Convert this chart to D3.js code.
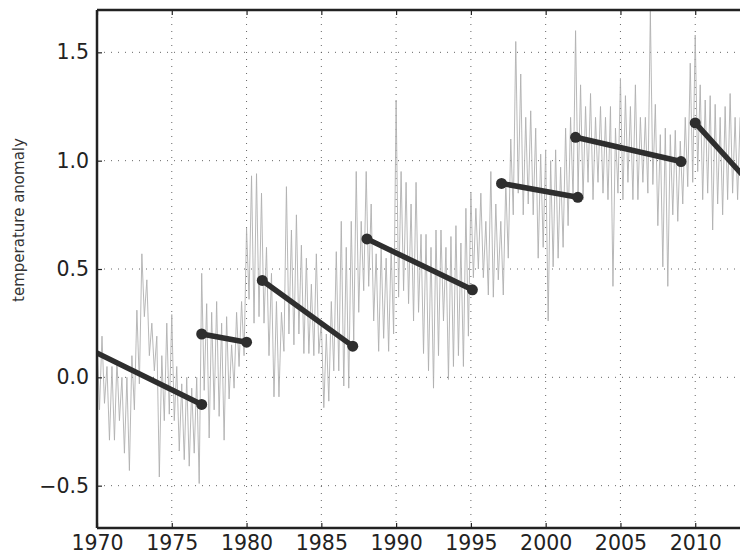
<!DOCTYPE html>
<html>
<head>
<meta charset="utf-8">
<script src="https://cdn.jsdelivr.net/npm/d3@7"></script>
<style>
  body { margin: 0; background: #fff; }
  svg { display: block; }
  svg text { font-family: "DejaVu Sans", sans-serif; }
</style>
</head>
<body>
<script>
// gray anomaly series, 6 samples per year starting 1970
const anomalyStart = 1970;
const samplesPerYear = 6;
const anomaly = [
  0.18, -0.15, 0.19, -0.12, 0.05, -0.29,
  0.05, -0.29, 0.08, -0.20, 0.00, -0.35,
  0.00, -0.43, 0.10, -0.15, 0.31, -0.03,
  0.57, 0.28, 0.45, 0.10, 0.25, 0.03,
  0.19, -0.46, 0.10, -0.20, 0.25, -0.17,
  0.29, -0.20, 0.05, -0.34, -0.03, -0.38,
  0.00, -0.41, -0.05, -0.35, 0.00, -0.49,
  0.48, -0.06, 0.34, -0.28, 0.30, -0.15,
  0.35, -0.18, 0.25, -0.29, 0.28, -0.10,
  0.15, -0.05, 0.30, 0.05, 0.35, 0.10,
  0.69, 0.36, 0.93, 0.25, 0.94, 0.28,
  0.85, 0.25, 0.60, 0.10, 0.48, -0.09,
  0.35, -0.09, 0.30, 0.12, 0.88, 0.20,
  0.68, 0.15, 0.75, 0.20, 0.61, 0.11,
  0.55, 0.11, 0.43, 0.10, 0.57, 0.11,
  0.26, -0.14, 0.20, -0.11, 0.35, 0.03,
  0.58, 0.03, 0.72, -0.04, 0.60, -0.05,
  0.72, 0.17, 0.95, 0.30, 0.72, 0.40,
  0.95, 0.42, 0.80, 0.26, 0.57, 0.12,
  0.60, 0.18, 0.55, 0.12, 0.60, 0.20,
  1.28, 0.37, 0.95, 0.40, 0.90, 0.34,
  0.80, 0.26, 0.90, 0.30, 0.66, 0.11,
  0.66, 0.03, 0.60, -0.05, 0.68, 0.10,
  0.68, 0.26, 0.60, -0.01, 0.65, 0.05,
  0.70, 0.10, 0.62, 0.05, 0.78, 0.19,
  0.85, 0.46, 0.78, 0.50, 0.85, 0.46,
  0.72, 0.38, 0.95, 0.37, 0.80, 0.45,
  0.72, 0.38, 0.90, 0.55, 1.10, 0.75,
  1.55, 0.85, 1.40, 0.75, 1.20, 0.80,
  1.23, 0.75, 1.15, 0.55, 1.03, 0.60,
  1.05, 0.26, 1.00, 0.51, 1.05, 0.55,
  0.97, 0.60, 1.15, 0.70, 1.20, 0.82,
  1.60, 0.85, 1.35, 0.82, 1.25, 0.90,
  1.31, 0.82, 1.20, 0.90, 1.25, 0.85,
  1.20, 0.82, 1.25, 0.42, 1.15, 0.85,
  1.38, 0.82, 1.30, 0.90, 1.25, 0.82,
  1.35, 0.82, 1.20, 0.90, 1.20, 0.85,
  1.69, 0.89, 1.26, 0.70, 1.12, 0.51,
  1.15, 0.42, 1.12, 0.75, 1.14, 0.72,
  1.09, 0.80, 1.20, 0.88, 1.45, 0.90,
  1.58, 0.95, 1.35, 0.82, 1.28, 0.85,
  1.30, 0.68, 1.26, 0.80, 1.20, 0.75,
  1.25, 0.82, 1.31, 0.85, 1.20, 0.82,
  1.20
];

// trend segments [year, value]
const trendFrom = [[1968, 0.18], [1977.0, 0.20], [1981.05, 0.447], [1988.05, 0.639], [1997.05, 0.895], [2002.0, 1.108], [2010.0, 1.174]];
const trendTo = [[1977.0, -0.125], [1980.0, 0.162], [1987.1, 0.144], [1995.1, 0.404], [2002.15, 0.831], [2009.05, 0.996], [2014, 0.87]];

const xTicks = [1970, 1975, 1980, 1985, 1990, 1995, 2000, 2005, 2010];
const yTicks = [-0.5, 0.0, 0.5, 1.0, 1.5];
const yLabel = 'temperature anomaly';

const width = 740, height = 555;
const plot = {left: 97, top: 10, bottom: 528, right: 770};

const x = d3.scaleLinear().domain([1970, 2015]).range([plot.left, plot.right]);
const y = d3.scaleLinear().domain([-0.7, 1.7]).range([529, 9]);

const svg = d3.select('body').append('svg').attr('width', width).attr('height', height);

svg.append('defs').append('clipPath').attr('id', 'clip')
  .append('rect')
  .attr('x', plot.left).attr('y', plot.top)
  .attr('width', plot.right - plot.left).attr('height', plot.bottom - plot.top);

// grid
const grid = svg.append('g').attr('stroke', '#555').attr('stroke-width', 0.9).attr('stroke-dasharray', '1,6');
grid.selectAll('.gx').data(xTicks.slice(1)).join('line')
  .attr('x1', d => x(d)).attr('x2', d => x(d))
  .attr('y1', plot.top).attr('y2', plot.bottom);
grid.selectAll('.gy').data(yTicks).join('line')
  .attr('x1', plot.left).attr('x2', width)
  .attr('y1', d => y(d)).attr('y2', d => y(d));

const inner = svg.append('g').attr('clip-path', 'url(#clip)');

const line = d3.line()
  .x((d, i) => x(anomalyStart + i / samplesPerYear))
  .y(d => y(d));

inner.append('path')
  .attr('d', line(anomaly))
  .attr('fill', 'none')
  .attr('stroke', '#b0b0b0')
  .attr('stroke-width', 0.9);

const segs = trendFrom.map((a, i) => [a, trendTo[i]]);
inner.selectAll('.seg').data(segs).join('line')
  .attr('x1', d => x(d[0][0])).attr('y1', d => y(d[0][1]))
  .attr('x2', d => x(d[1][0])).attr('y2', d => y(d[1][1]))
  .attr('stroke', '#2e2e2e')
  .attr('stroke-width', 5.5)
  .attr('stroke-linecap', 'round');
inner.selectAll('.dot').data(segs.flat()).join('circle')
  .attr('cx', d => x(d[0])).attr('cy', d => y(d[1]))
  .attr('r', 5.5)
  .attr('fill', '#2e2e2e');

// axes
const xAxis = d3.axisBottom(x).tickValues(xTicks).tickSize(-5).tickPadding(7).tickFormat(d3.format('d'));
const yAxis = d3.axisLeft(y).tickValues(yTicks).tickSize(-5).tickPadding(8)
  .tickFormat(d => d3.format('.1f')(d).replace('-', '\u2212'));

svg.append('g').attr('class', 'axis')
  .attr('transform', `translate(0,${plot.bottom})`)
  .call(xAxis);
svg.append('g').attr('class', 'axis')
  .attr('transform', `translate(${plot.left},0)`)
  .call(yAxis);
svg.append('g').attr('class', 'axis')
  .attr('transform', `translate(0,${plot.top})`)
  .call(d3.axisTop(x).tickValues(xTicks).tickSize(-5).tickFormat(''));

svg.selectAll('.axis').attr('font-family', null);
svg.selectAll('.axis .domain').remove();
svg.selectAll('.axis .tick line').attr('stroke', '#222').attr('stroke-width', 1.2);
svg.selectAll('.axis text').attr('font-size', 20.5).attr('fill', '#222');

// frame
const frame = svg.append('g').attr('stroke', '#222').attr('stroke-width', 2.5).attr('fill', 'none');
frame.append('line').attr('x1', plot.left).attr('x2', plot.left).attr('y1', plot.top).attr('y2', plot.bottom);
frame.append('line').attr('x1', plot.left).attr('x2', width).attr('y1', plot.top).attr('y2', plot.top);
frame.append('line').attr('x1', plot.left).attr('x2', width).attr('y1', plot.bottom).attr('y2', plot.bottom);

svg.append('text')
  .attr('transform', `translate(24,${(plot.top + plot.bottom) / 2 - 49}) rotate(-90)`)
  .attr('text-anchor', 'middle')
  .attr('font-size', 15)
  .attr('fill', '#333')
  .text(yLabel);
</script>
</body>
</html>
